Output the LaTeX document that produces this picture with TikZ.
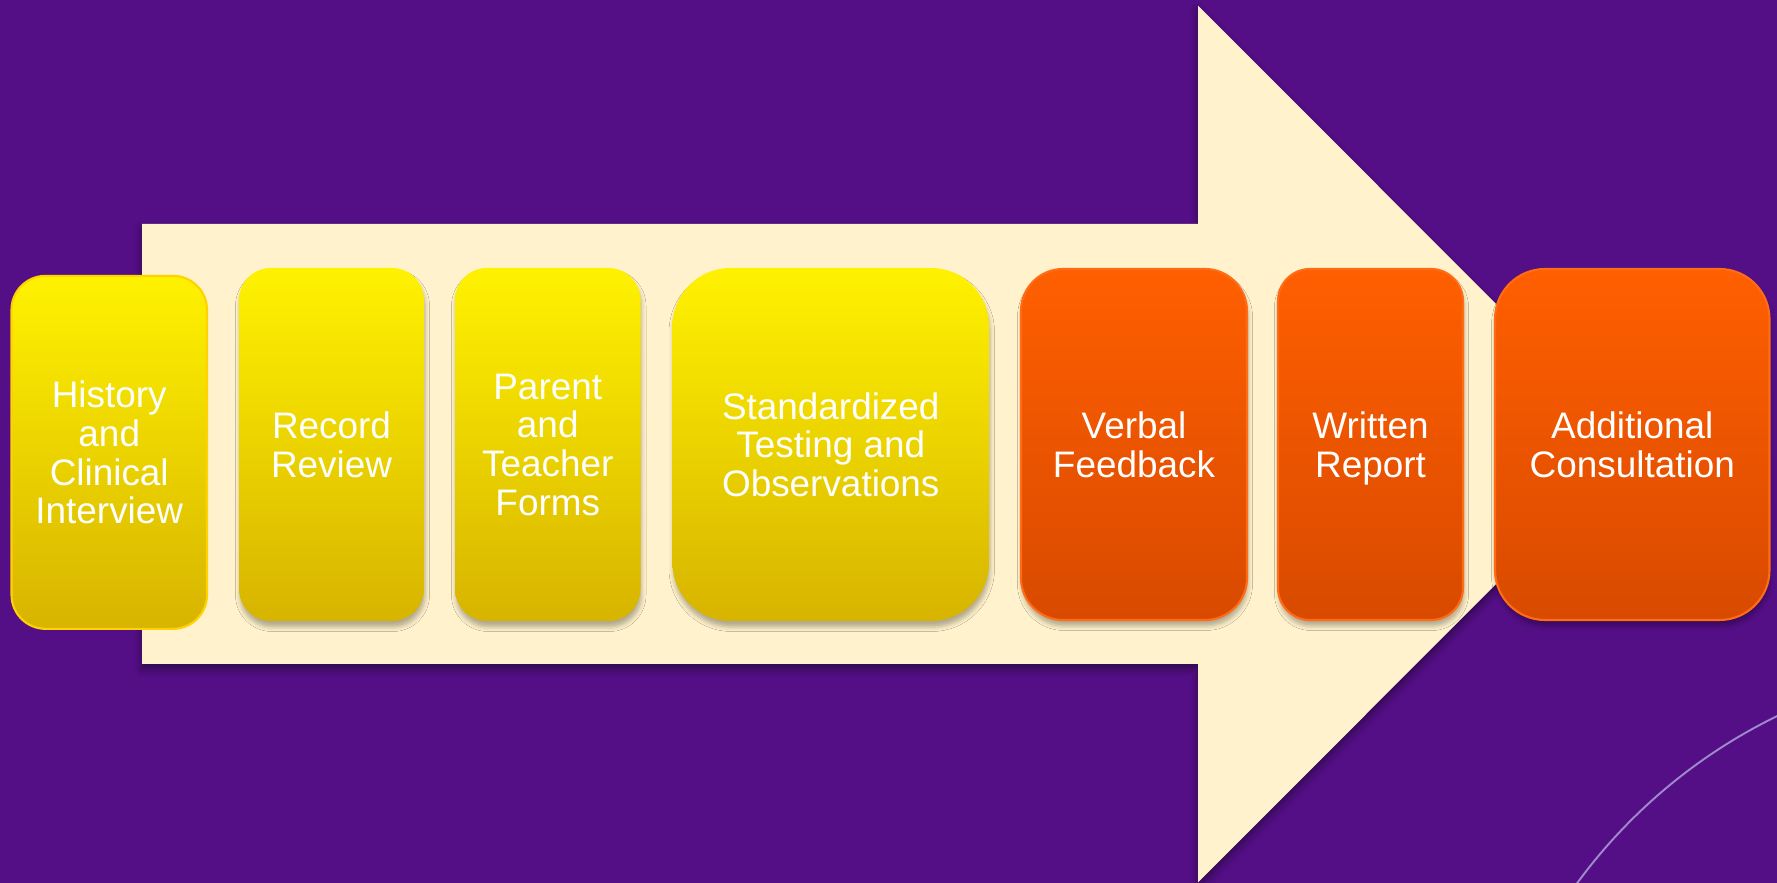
\documentclass[tikz,border=0pt]{standalone}
\usepackage{fontspec}
\setmainfont{Liberation Sans}
\usepackage{xcolor}
\usepackage{tikz}
\usetikzlibrary{shadows.blur}

\definecolor{bgpurple}{HTML}{540F87}
\definecolor{arrowcream}{HTML}{FFF2CC}
\definecolor{ylwtop}{HTML}{FFF200}
\definecolor{ylwbot}{HTML}{D7B400}
\definecolor{ylwline}{HTML}{FFD200}
\definecolor{orgtop}{HTML}{FF5F00}
\definecolor{orgbot}{HTML}{D84A00}
\definecolor{orgline}{HTML}{FF6C15}
\definecolor{arccol}{HTML}{A088CC}

\begin{document}
\begin{tikzpicture}[
  stage/.style={minimum height=3.53cm,inner sep=0pt,outer sep=0pt,align=center,text=white,
    font=\fontsize{10.5}{11}\selectfont,text depth=0pt},
  shade/.style={blur shadow={shadow xshift=0.01cm,shadow yshift=-0.06cm,
    shadow blur radius=0.045cm,shadow opacity=30}},
  early/.style={stage,top color=ylwtop,bottom color=ylwbot},
  late/.style={stage,shade,top color=orgtop,bottom color=orgbot,draw=orgline,line width=0.6pt}
]
  \useasboundingbox (0,0) rectangle (17.77,8.83);
  \clip (0,0) rectangle (17.77,8.83);
  \fill[bgpurple] (0,0) rectangle (17.77,8.83);
  \draw[arccol,line width=0.55pt] (20.13,-3.19) circle[radius=5.40];

  % big process arrow behind the stages
  \fill[arrowcream,blur shadow={shadow xshift=0cm,shadow yshift=-0.05cm,
      shadow blur radius=0.08cm,shadow opacity=45}]
    (1.42,2.19) -- (11.98,2.19) -- (11.98,0.006) -- (16.36,4.39)
    -- (11.98,8.774) -- (11.98,6.59) -- (1.42,6.59) -- cycle;

  \node[early,draw=ylwline,line width=0.6pt,minimum width=1.955cm,rounded corners=0.34cm]
    (hist) at (1.0925,4.3065) {History\\and\\Clinical\\Interview};
  \node[early,shade,minimum width=1.85cm,rounded corners=0.32cm]
    (rec) at (3.315,4.385) {Record\\Review};
  \node[early,shade,minimum width=1.855cm,rounded corners=0.32cm]
    (forms) at (5.4775,4.385) {Parent\\and\\Teacher\\Forms};
  \node[early,shade,minimum width=3.165cm,rounded corners=0.58cm]
    (tests) at (8.3075,4.385) {Standardized\\Testing and\\Observations};
  \node[late,minimum width=2.26cm,minimum height=3.51cm,rounded corners=0.42cm]
    (verbal) at (11.34,4.385) {Verbal\\Feedback};
  \node[late,minimum width=1.85cm,minimum height=3.51cm,rounded corners=0.32cm]
    (report) at (13.705,4.385) {Written\\Report};
  \node[late,minimum width=2.745cm,minimum height=3.51cm,rounded corners=0.5cm]
    (consult) at (16.3225,4.385) {Additional\\Consultation};
\end{tikzpicture}
\end{document}
